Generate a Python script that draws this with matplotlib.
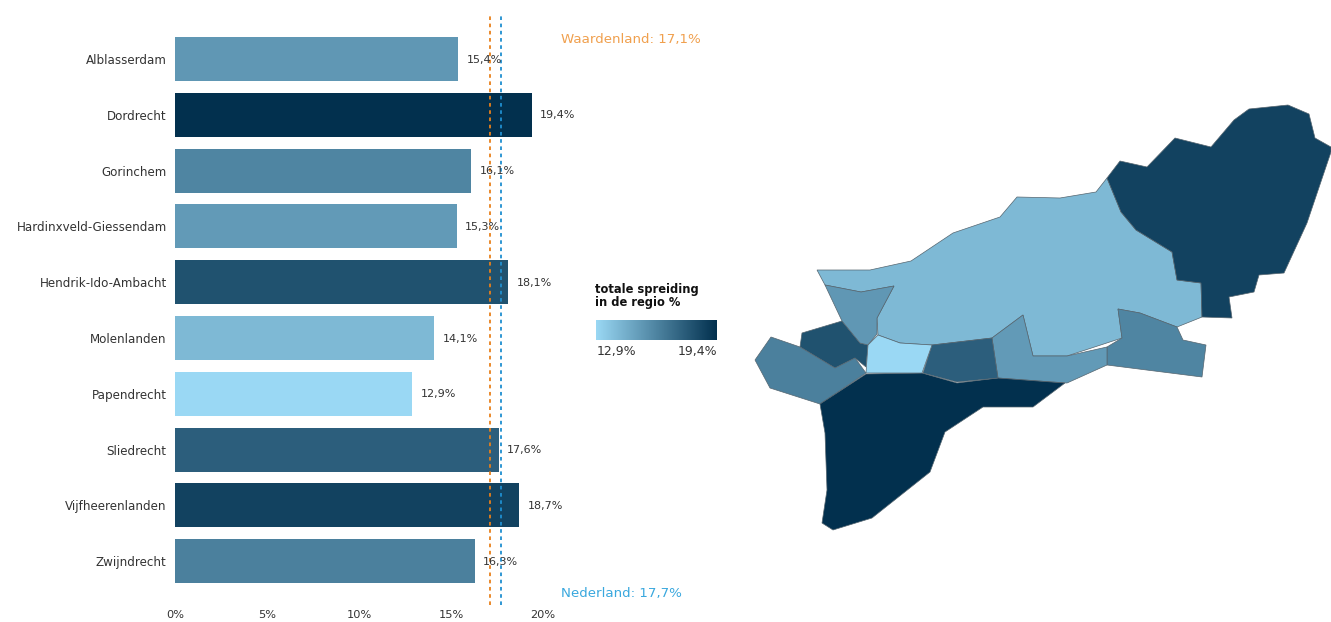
import numpy as np
import matplotlib.pyplot as plt
from matplotlib.colors import LinearSegmentedColormap, Normalize
from matplotlib.patches import Polygon

# --- data ---
gemeenten = ['Alblasserdam', 'Dordrecht', 'Gorinchem', 'Hardinxveld-Giessendam',
             'Hendrik-Ido-Ambacht', 'Molenlanden', 'Papendrecht', 'Sliedrecht',
             'Vijfheerenlanden', 'Zwijndrecht']
waarden = [15.4, 19.4, 16.1, 15.3, 18.1, 14.1, 12.9, 17.6, 18.7, 16.3]
xticks = [0, 5, 10, 15, 20]
xtick_labels = ['0%', '5%', '10%', '15%', '20%']
waardenland = 17.1
nederland = 17.7

# map outlines (pixel coordinates)
kaart_vijfheerenlanden = [(1107, 178), (1120, 161), (1147, 167), (1175, 138), (1211, 147),
                          (1234, 120), (1249, 109), (1288, 105), (1309, 114), (1315, 138),
                          (1331, 147), (1331, 152), (1307, 223), (1284, 273), (1259, 275),
                          (1254, 292), (1229, 297), (1232, 318), (1202, 317), (1201, 283),
                          (1177, 280), (1172, 252), (1136, 230), (1121, 212)]
kaart_molenlanden = [(817, 270), (870, 270), (911, 261), (953, 233), (1000, 217), (1017, 197),
                     (1060, 198), (1096, 192), (1107, 178), (1121, 212), (1136, 230),
                     (1172, 252), (1177, 280), (1201, 283), (1202, 317), (1177, 327),
                     (1140, 313), (1118, 309), (1122, 338), (1067, 356), (1033, 356),
                     (1023, 315), (992, 338), (932, 345), (900, 343), (878, 335),
                     (877, 318), (894, 286), (861, 292), (825, 285)]
kaart_gorinchem = [(1118, 309), (1140, 313), (1177, 327), (1183, 340), (1206, 345),
                   (1202, 377), (1107, 365), (1107, 347), (1122, 338)]
kaart_hardinxveld = [(1023, 315), (1033, 356), (1067, 356), (1107, 347), (1107, 365),
                     (1067, 383), (998, 378), (992, 338)]
kaart_sliedrecht = [(932, 345), (992, 338), (998, 378), (957, 382), (923, 373)]
kaart_papendrecht = [(878, 335), (900, 343), (932, 345), (922, 373), (866, 373), (868, 345)]
kaart_alblasserdam = [(825, 285), (861, 292), (894, 286), (877, 318), (877, 334), (868, 345),
                      (860, 343), (842, 321)]
kaart_hia = [(802, 333), (842, 321), (860, 343), (868, 345), (866, 367), (855, 358),
             (835, 368), (800, 347)]
kaart_zwijndrecht = [(755, 360), (771, 337), (800, 347), (835, 368), (855, 358), (866, 373),
                     (820, 404), (770, 388)]
kaart_dordrecht = [(820, 404), (866, 374), (922, 373), (957, 383), (998, 378), (1065, 383),
                   (1033, 407), (983, 407), (945, 432), (930, 472), (872, 518), (833, 530),
                   (822, 523), (827, 490), (825, 433)]

kaart = {
    'Molenlanden': kaart_molenlanden,
    'Vijfheerenlanden': kaart_vijfheerenlanden,
    'Gorinchem': kaart_gorinchem,
    'Hardinxveld-Giessendam': kaart_hardinxveld,
    'Hendrik-Ido-Ambacht': kaart_hia,
    'Alblasserdam': kaart_alblasserdam,
    'Zwijndrecht': kaart_zwijndrecht,
    'Dordrecht': kaart_dordrecht,
    'Sliedrecht': kaart_sliedrecht,
    'Papendrecht': kaart_papendrecht,
}

# --- figure ---
W, H = 1331, 622
plt.rcParams['font.family'] = ['DejaVu Sans']
fig = plt.figure(figsize=(W / 100, H / 100), dpi=100)

cmap = LinearSegmentedColormap.from_list('spreiding', ['#9ad8f4', '#02304e'])
norm = Normalize(min(waarden), max(waarden))
kleur = dict(zip(gemeenten, cmap(norm(waarden))))


def komma(v):
    return f'{v:.1f}%'.replace('.', ',')


# full figure axes in pixels for the map and the loose texts
ax_map = fig.add_axes([0, 0, 1, 1])
ax_map.set_xlim(0, W)
ax_map.set_ylim(H, 0)
ax_map.axis('off')

for naam, punten in kaart.items():
    ax_map.add_patch(Polygon(punten, closed=True, facecolor=kleur[naam],
                             edgecolor='#55656f', linewidth=0.5))

# --- bars ---
stap = 55.8
top = 59
ax = fig.add_axes([175 / W, (H - 605) / H, (543 - 175) / W, 590 / H])
ax.patch.set_alpha(0)
ax.set_xlim(0, 20)
ax.set_ylim((605 - top) / stap, (15 - top) / stap)

pos = np.arange(len(gemeenten))
ax.barh(pos, waarden, height=0.79, color=[kleur[g] for g in gemeenten])
ax.set_yticks(pos)
ax.set_yticklabels(gemeenten, fontsize=8.6, color='#333333')
ax.set_xticks(xticks)
ax.set_xticklabels(xtick_labels, fontsize=8.2, color='#333333')
ax.tick_params(length=0)
ax.tick_params(axis='y', pad=6)
ax.tick_params(axis='x', pad=3.5)
for s in ax.spines.values():
    s.set_visible(False)

for p, v in zip(pos, waarden):
    ax.annotate(komma(v), (v, p), xytext=(6, -0.5), textcoords='offset points',
                fontsize=8, color='#333333', va='center', annotation_clip=False)

ax.axvline(waardenland, color='#e8801a', linestyle=(0, (2, 2)), linewidth=1.3)
ax.axvline(nederland, color='#1f8fd0', linestyle=(0, (2, 2)), linewidth=1.3)

ax_map.text(561, 40, f'Waardenland: {komma(waardenland)}', color='#f0a04e', fontsize=9.6, va='center')
ax_map.text(561, 594, f'Nederland: {komma(nederland)}', color='#3aa8de', fontsize=9.6, va='center')

# --- legend ---
ax_map.text(595, 296, 'totale spreiding\nin de regio %', fontsize=8.3, fontweight='bold',
            color='#111111', va='center', linespacing=1.05)
gradient = np.linspace(0, 1, 256).reshape(1, -1)
ax_map.imshow(gradient, cmap=cmap, extent=(596, 717, 340, 320), aspect='auto')
ax_map.set_xlim(0, W)
ax_map.set_ylim(H, 0)
ax_map.text(597, 352, komma(min(waarden)), fontsize=9, color='#333333', va='center')
ax_map.text(717, 352, komma(max(waarden)), fontsize=9, color='#333333', va='center', ha='right')

fig.savefig('out.png', dpi=100)
